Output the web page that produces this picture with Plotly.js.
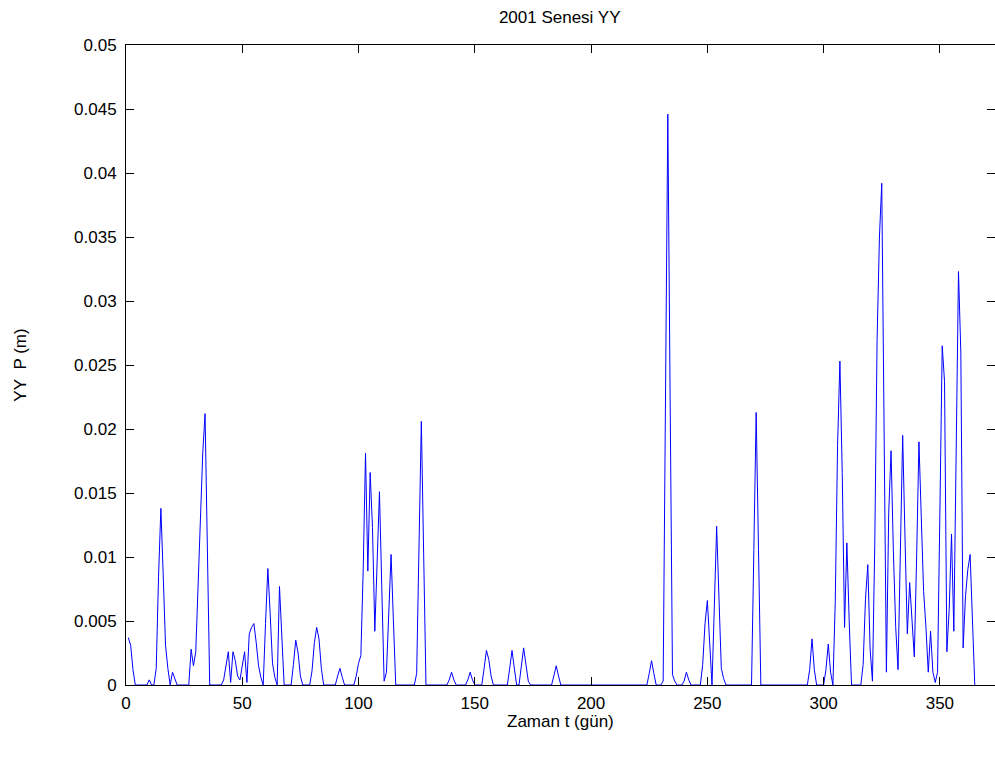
<!DOCTYPE html>
<html>
<head>
<meta charset="utf-8">
<script src="https://cdn.plot.ly/plotly-3.0.1.min.js"></script>
<style>
html,body{margin:0;padding:0;background:#fff;}
#chart{width:995px;height:758px;}
</style>
</head>
<body>
<div id="chart"></div>
<script>
// Daily values of YY P (m), day 1 .. 365
const pValues = [
  0.0037,0.0031,0.0012,0,0,0,0,0,0,0.0004,
  0,0,0.0013,0.0085,0.0138,0.0086,0.0031,0.0013,0,0.0010,
  0.0005,0,0,0,0,0,0,0.0028,0.0015,0.0026,
  0.0077,0.0128,0.0181,0.0212,0.0107,0,0,0,0,0,
  0,0.0004,0.0017,0.0026,0.0002,0.0026,0.0019,0.0007,0.0004,0.0016,
  0.0026,0.0002,0.0040,0.0045,0.0048,0.0033,0.0015,0.0006,0,0.0048,
  0.0091,0.0056,0.0017,0.0006,0,0.0077,0.0040,0,0,0,
  0,0.0016,0.0035,0.0025,0.0007,0,0,0,0,0.0011,
  0.0033,0.0045,0.0036,0.0013,0,0,0,0,0,0,
  0.0007,0.0013,0.0006,0,0,0,0,0,0.0007,0.0017,
  0.0023,0.0090,0.0181,0.0089,0.0166,0.0123,0.0042,0.0089,0.0151,0.0076,
  0.0003,0.0010,0.0055,0.0102,0.0050,0,0,0,0,0,
  0,0,0,0,0.0009,0.0111,0.0206,0.0103,0,0,
  0,0,0,0,0,0,0,0,0.0004,0.0010,
  0.0004,0,0,0,0,0,0.0004,0.0010,0.0004,0,
  0,0,0,0.0013,0.0027,0.0020,0.0007,0,0,0,
  0,0,0,0,0.0013,0.0027,0.0013,0,0,0.0015,
  0.0029,0.0016,0.0003,0,0,0,0,0,0,0,
  0,0,0,0.0007,0.0015,0.0007,0,0,0,0,
  0,0,0,0,0,0,0,0,0,0,
  0,0,0,0,0,0,0,0,0,0,
  0,0,0,0,0,0,0,0,0,0,
  0,0,0,0,0.0009,0.0019,0.0009,0,0,0,
  0.0003,0.0224,0.0446,0.0224,0.0008,0.0003,0,0,0,0.0003,
  0.0010,0.0004,0,0,0,0,0,0.0016,0.0048,0.0066,
  0.0031,0,0.0061,0.0124,0.0068,0.0013,0.0005,0,0,0,
  0,0,0,0,0,0,0,0,0,0.0106,
  0.0213,0.0106,0,0,0,0,0,0,0,0,
  0,0,0,0,0,0,0,0,0,0,
  0,0,0,0.0012,0.0036,0.0012,0,0,0,0,
  0.0012,0.0032,0.0010,0,0.0065,0.0187,0.0253,0.0166,0.0045,0.0111,
  0.0050,0,0,0,0,0,0.0016,0.0067,0.0094,0.0028,
  0.0003,0.0110,0.0270,0.0350,0.0392,0.0193,0.0010,0.0135,0.0183,0.0104,
  0.0045,0.0012,0.0101,0.0195,0.0115,0.0040,0.0080,0.0050,0.0022,0.0100,
  0.0190,0.0131,0.0073,0.0045,0.0010,0.0042,0.0010,0.0002,0.0010,0.0135,
  0.0265,0.0237,0.0026,0.0059,0.0118,0.0042,0.0172,0.0323,0.0260,0.0029,
  0.0069,0.0090,0.0102,0.0049,0
];
const days = pValues.map((v, i) => i + 1);

const xTickVals = [0, 50, 100, 150, 200, 250, 300, 350];
const yTickVals = [0, 0.005, 0.01, 0.015, 0.02, 0.025, 0.03, 0.035, 0.04, 0.045, 0.05];
const yTickText = ['0','0.005','0.01','0.015','0.02','0.025','0.03','0.035','0.04','0.045','0.05'];

const titleText = '2001 Senesi YY';
const xTitle = 'Zaman t (gün)';
const yTitle = 'YY\u00a0\u00a0P (m)';

const fontFamily = 'Liberation Sans, Arial, sans-serif';

const trace = {
  x: days,
  y: pValues,
  type: 'scatter',
  mode: 'lines',
  line: {color: '#0000ff', width: 1},
  hoverinfo: 'skip'
};

const layout = {
  width: 995,
  height: 758,
  margin: {l: 126, r: 0, t: 45, b: 73, pad: 0},
  paper_bgcolor: '#ffffff',
  plot_bgcolor: '#ffffff',
  showlegend: false,
  font: {family: fontFamily, size: 17, color: '#000'},
  title: {
    text: titleText,
    font: {family: fontFamily, size: 17, color: '#000'},
    x: 0.5625, xanchor: 'center',
    y: 0.978, yanchor: 'middle'
  },
  annotations: [{
    text: xTitle,
    xref: 'paper', yref: 'paper',
    x: 0.5, y: 0,
    xanchor: 'center', yanchor: 'top',
    yshift: -26,
    borderpad: 0,
    showarrow: false,
    font: {family: fontFamily, size: 17, color: '#000'}
  }],
  xaxis: {
    range: [0, 373.7],
    tickvals: xTickVals,
    ticktext: xTickVals.map(String),
    ticks: 'inside',
    ticklen: 8,
    tickcolor: '#000',
    tickwidth: 1,
    showline: true,
    linecolor: '#000',
    linewidth: 1,
    mirror: 'ticks',
    showgrid: false,
    zeroline: false,
    ticklabelstandoff: 3,
    tickfont: {family: fontFamily, size: 17, color: '#000'}
  },
  yaxis: {
    range: [0, 0.05],
    tickvals: yTickVals,
    ticktext: yTickText,
    ticks: 'inside',
    ticklen: 8,
    tickcolor: '#000',
    tickwidth: 1,
    showline: true,
    linecolor: '#000',
    linewidth: 1,
    mirror: 'ticks',
    showgrid: false,
    zeroline: false,
    ticklabelstandoff: 5,
    tickfont: {family: fontFamily, size: 17, color: '#000'},
    title: {text: yTitle, font: {family: fontFamily, size: 17, color: '#000'}, standoff: 43}
  }
};

Plotly.newPlot('chart', [trace], layout, {displayModeBar: false, staticPlot: true});
</script>
</body>
</html>
